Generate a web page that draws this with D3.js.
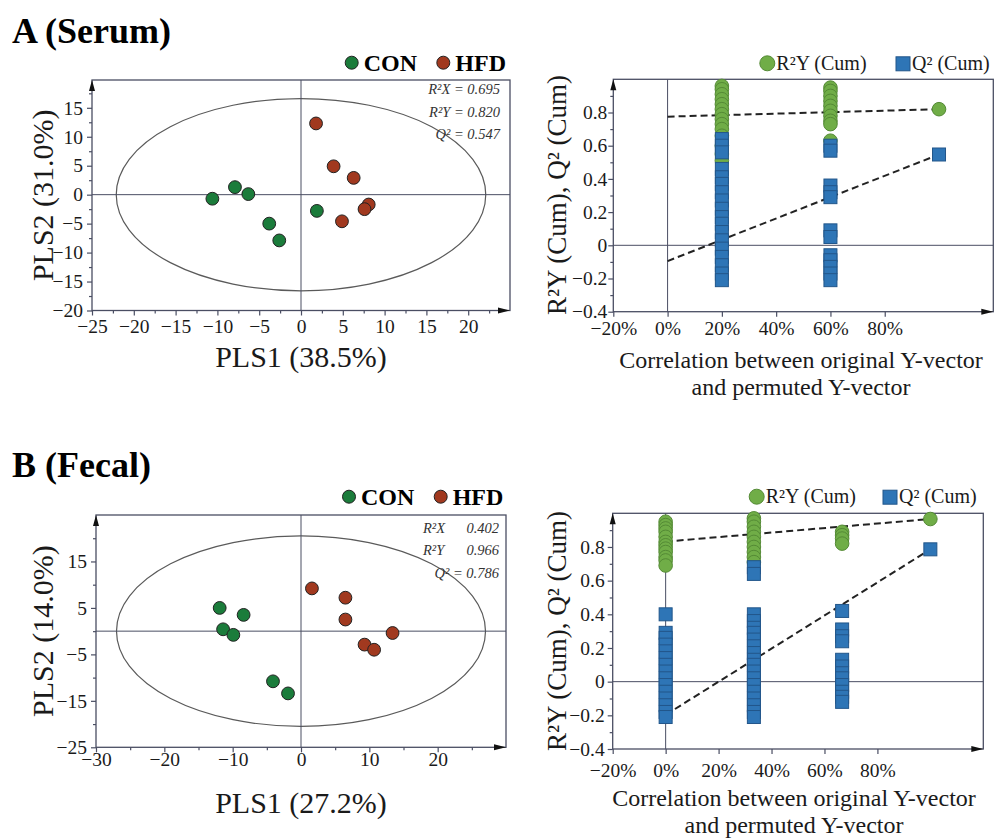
<!DOCTYPE html>
<html>
<head>
<meta charset="utf-8">
<script src="https://cdn.jsdelivr.net/npm/d3@7"></script>
<style>
  body { margin: 0; background: #fff; }
  svg text { font-family: "Liberation Serif", "Times New Roman", serif; }
</style>
</head>
<body>
<div id="chart"></div>
<script>
// ============================
// Data
// ============================

const groups = ["CON", "HFD"];
const groupColors = ["#1b7c3b", "#a1391f"];

// A (Serum) PLS-DA scores [PLS1, PLS2]
const conA = [[-10.6, -0.7], [-7.9, 1.3], [-6.3, 0.1], [-3.8, -5.0], [-2.6, -7.9], [1.9, -2.8]];
const hfdA = [[1.8, 12.3], [3.9, 4.9], [6.3, 2.9], [8.1, -1.7], [7.6, -2.5], [4.9, -4.6]];
const ellipseA = [22.1, 16.6];
const statsA = [["R²X = 0.695"], ["R²Y = 0.820"], ["Q² = 0.547"]];

// B (Fecal) PLS-DA scores
const conB = [[-11.9, 5.0], [-8.4, 3.5], [-11.4, 0.4], [-9.9, -0.8], [-4.1, -10.8], [-1.9, -13.4]];
const hfdB = [[1.6, 9.2], [6.5, 7.2], [6.5, 2.5], [13.4, -0.4], [9.3, -2.9], [10.7, -4.0]];
const ellipseB = [27.0, 20.5];
const statsB = [["R²X", "0.402"], ["R²Y", "0.966"], ["Q² = 0.786"]];

// A permutation test
const permCorrA = [0.2, 0.6];
const permR2YA = [
  [0.96, 0.94, 0.91, 0.88, 0.85, 0.82, 0.79, 0.76, 0.73, 0.70, 0.66, 0.60, 0.55, 0.51],
  [0.95, 0.93, 0.90, 0.87, 0.84, 0.81, 0.78, 0.75, 0.73, 0.63]
];
const permQ2A = [
  [0.64, 0.60, 0.56, 0.46, 0.41, 0.37, 0.32, 0.27, 0.22, 0.17, 0.13, 0.08, 0.03, -0.02, -0.07, -0.12, -0.17, -0.21],
  [0.60, 0.57, 0.36, 0.32, 0.29, 0.09, 0.05, -0.06, -0.09, -0.13, -0.17, -0.21]
];
const origA = [0.820, 0.547];         // R2Y, Q2 of the real model (corr = 100%)
const fitR2YA = [[0, 0.775], [1, 0.820]];
const fitQ2A = [[0, -0.095], [1, 0.547]];

// B permutation test
const permCorrB = [0, 1 / 3, 2 / 3];
const permR2YB = [
  [0.95, 0.93, 0.91, 0.89, 0.86, 0.83, 0.81, 0.79, 0.77, 0.74, 0.72, 0.69],
  [0.97, 0.95, 0.92, 0.89, 0.86, 0.83, 0.80, 0.77, 0.74, 0.71],
  [0.89, 0.87, 0.85, 0.82]
];
const permQ2B = [
  [0.40, 0.29, 0.26, 0.22, 0.18, 0.14, 0.10, 0.06, 0.02, -0.02, -0.06, -0.10, -0.14, -0.18, -0.21],
  [0.68, 0.64, 0.40, 0.36, 0.32, 0.29, 0.25, 0.21, 0.17, 0.13, 0.10, 0.06, 0.02, -0.02, -0.06, -0.10, -0.14, -0.18, -0.21],
  [0.42, 0.31, 0.27, 0.24, 0.13, 0.09, 0.05, 0.02, -0.02, -0.06, -0.09, -0.12]
];
const origB = [0.966, 0.786];
const fitR2YB = [[0, 0.832], [1, 0.966]];
const fitQ2B = [[0, -0.197], [1, 0.786]];

const permTicksX = [-0.2, 0, 0.2, 0.4, 0.6, 0.8];
const permTicksY = [-0.4, -0.2, 0, 0.2, 0.4, 0.6, 0.8];
const permMinorY = [-0.3, -0.1, 0.1, 0.3, 0.5, 0.7, 0.9];

// ============================
// Setup
// ============================

const serif = '"Liberation Serif", "Times New Roman", serif';
const axisCol = "#4a4e63";
const permGreen = "#70ad47", permGreenStroke = "#548a35";
const permBlue = "#2e75b6", permBlueStroke = "#22568a";

const svg = d3.select("#chart").append("svg")
  .attr("width", 998).attr("height", 838);

function styleAxis(a) {
  a.select(".domain").remove();
  a.attr("font-family", serif).attr("font-size", 19.5);
  a.selectAll("line").attr("stroke", axisCol).attr("stroke-width", 1.2);
  a.selectAll("text").attr("fill", "#1a1a1a");
}

// box + zero lines + arrows
function drawFrame(g, x, y) {
  const [l, r] = x.range(), [b, t] = y.range();
  g.append("line").attr("x1", l).attr("x2", r).attr("y1", y(0)).attr("y2", y(0))
    .attr("stroke", axisCol).attr("stroke-width", 1);
  g.append("line").attr("x1", x(0)).attr("x2", x(0)).attr("y1", t).attr("y2", b)
    .attr("stroke", axisCol).attr("stroke-width", 1);
  g.append("rect").attr("x", l).attr("y", t).attr("width", r - l).attr("height", b - t)
    .attr("fill", "none").attr("stroke", axisCol).attr("stroke-width", 1.3);
  g.append("path").attr("d", `M${l},${t}L${l - 3},${t + 11}L${l + 3},${t + 11}Z`).attr("fill", "#111");
  g.append("path").attr("d", `M${r},${b}L${r - 12},${b - 3}L${r - 12},${b + 3}Z`).attr("fill", "#111");
}

function axes(g, x, y, o) {
  const b = y.range()[0], l = x.range()[0];
  g.append("g").attr("transform", `translate(0,${b})`)
    .call(d3.axisBottom(x).tickValues(o.xMinor).tickSize(3).tickFormat(""))
    .call(styleAxis);
  g.append("g").attr("transform", `translate(0,${b})`)
    .call(d3.axisBottom(x).tickValues(o.xTicks).tickSize(5).tickFormat(o.xFmt))
    .call(styleAxis)
    .call(a => a.selectAll("text").attr("y", o.xLabY).attr("dy", 0));
  g.append("g").attr("transform", `translate(${l},0)`)
    .call(d3.axisLeft(y).tickValues(o.yMinor).tickSize(3).tickFormat(""))
    .call(styleAxis);
  g.append("g").attr("transform", `translate(${l},0)`)
    .call(d3.axisLeft(y).tickValues(o.yTicks).tickSize(5).tickFormat(o.yFmt))
    .call(styleAxis)
    .call(a => a.selectAll("text").attr("x", -o.yLabX));
}

// ============================
// Score plot
// ============================
function drawScore(o) {
  const x = d3.scaleLinear().domain(o.xDomain).range([o.left, o.right]);
  const y = d3.scaleLinear().domain(o.yDomain).range([o.bottom, o.top]);
  const g = svg.append("g");

  g.append("text").attr("x", 12).attr("y", o.titleY)
    .attr("font-size", 36).attr("font-weight", "bold").text(o.title);

  g.append("ellipse")
    .attr("cx", x(0)).attr("cy", y(0))
    .attr("rx", x(o.ell[0]) - x(0)).attr("ry", y(0) - y(o.ell[1]))
    .attr("fill", "none").attr("stroke", "#5a5a5a").attr("stroke-width", 1.2);

  drawFrame(g, x, y);
  axes(g, x, y, o);

  [o.con, o.hfd].forEach((pts, i) => {
    g.append("g").selectAll("circle").data(pts).join("circle")
      .attr("cx", d => x(d[0])).attr("cy", d => y(d[1])).attr("r", 6.4)
      .attr("fill", groupColors[i]).attr("stroke", "#222").attr("stroke-width", 1);
  });

  // stats text
  o.stats.forEach((s, i) => {
    const ty = o.statY + i * 22.6;
    if (s.length === 1) {
      g.append("text").attr("x", o.statX).attr("y", ty).attr("text-anchor", "end")
        .attr("font-size", 14.5).attr("font-style", "italic").attr("fill", "#333").text(s[0]);
    } else {
      g.append("text").attr("x", o.statX - 76).attr("y", ty)
        .attr("font-size", 14.5).attr("font-style", "italic").attr("fill", "#333").text(s[0]);
      g.append("text").attr("x", o.statX).attr("y", ty).attr("text-anchor", "end")
        .attr("font-size", 14.5).attr("font-style", "italic").attr("fill", "#333").text(s[1]);
    }
  });

  // legend
  groups.forEach((name, i) => {
    const cx = o.legX[i];
    g.append("circle").attr("cx", cx).attr("cy", o.legY).attr("r", 6.5)
      .attr("fill", groupColors[i]).attr("stroke", "#222").attr("stroke-width", 1);
    g.append("text").attr("x", cx + 12).attr("y", o.legY + 7.8)
      .attr("font-size", 24).attr("font-weight", "bold").text(name);
  });

  // axis titles
  g.append("text").attr("x", (o.left + o.right) / 2).attr("y", o.xTitleY)
    .attr("text-anchor", "middle").attr("font-size", 30).attr("fill", "#1a1a1a").text(o.xTitle);
  g.append("text").attr("transform", `translate(53,${(o.top + o.bottom) / 2}) rotate(-90)`)
    .attr("text-anchor", "middle").attr("font-size", 30).attr("fill", "#1a1a1a").text(o.yTitle);
}

// ============================
// Permutation plot
// ============================
function drawPerm(o) {
  const x = d3.scaleLinear().domain([-0.2, 1.2]).range([o.left, o.right]);
  const y = d3.scaleLinear().domain([-0.4, 1.0]).range([o.bottom, o.top]);
  const g = svg.append("g");

  drawFrame(g, x, y);
  axes(g, x, y, {
    xMinor: [], xTicks: permTicksX, xFmt: d3.format(".0%"), xLabY: o.xLabY,
    yMinor: permMinorY, yTicks: permTicksY, yFmt: d => d === 0 ? "0" : d3.format(".1f")(d), yLabX: o.yLabX
  });

  const line = d3.line().x(d => x(d[0])).y(d => y(d[1]));
  [o.fitR2Y, o.fitQ2].forEach(f => {
    g.append("path").datum(f).attr("d", line)
      .attr("fill", "none").attr("stroke", "#222").attr("stroke-width", 2)
      .attr("stroke-dasharray", "7,4");
  });

  const r2yPts = o.corr.flatMap((c, i) => o.r2y[i].map(v => [c, v])).concat([[1, o.orig[0]]]);
  const q2Pts = o.corr.flatMap((c, i) => o.q2[i].map(v => [c, v])).concat([[1, o.orig[1]]]);

  g.append("g").selectAll("circle").data(r2yPts).join("circle")
    .attr("cx", d => x(d[0])).attr("cy", d => y(d[1])).attr("r", 6.8)
    .attr("fill", permGreen).attr("stroke", permGreenStroke).attr("stroke-width", 1);

  const s = 13;
  g.append("g").selectAll("rect").data(q2Pts).join("rect")
    .attr("x", d => x(d[0]) - s / 2).attr("y", d => y(d[1]) - s / 2)
    .attr("width", s).attr("height", s)
    .attr("fill", permBlue).attr("stroke", permBlueStroke).attr("stroke-width", 1);

  // legend
  g.append("circle").attr("cx", o.legX[0]).attr("cy", o.legY).attr("r", 7.5)
    .attr("fill", permGreen).attr("stroke", permGreenStroke);
  g.append("text").attr("x", o.legX[0] + 9).attr("y", o.legY + 6.5)
    .attr("font-size", 20).attr("fill", "#1a1a1a").text("R²Y (Cum)");
  g.append("rect").attr("x", o.legX[1] - 7).attr("y", o.legY - 6.5).attr("width", 14).attr("height", 14)
    .attr("fill", permBlue).attr("stroke", permBlueStroke);
  g.append("text").attr("x", o.legX[1] + 9).attr("y", o.legY + 6.5)
    .attr("font-size", 20).attr("fill", "#1a1a1a").text("Q² (Cum)");

  // titles
  g.append("text").attr("x", o.xTitleX).attr("y", o.xTitleY)
    .attr("text-anchor", "middle").attr("font-size", 24).attr("fill", "#1a1a1a")
    .text("Correlation between original Y-vector");
  g.append("text").attr("x", o.xTitleX).attr("y", o.xTitleY + 27)
    .attr("text-anchor", "middle").attr("font-size", 24).attr("fill", "#1a1a1a")
    .text("and permuted Y-vector");
  g.append("text").attr("transform", `translate(566,${o.yTitleY}) rotate(-90)`)
    .attr("text-anchor", "middle").attr("font-size", 27).attr("fill", "#1a1a1a")
    .text("R²Y (Cum), Q² (Cum)");
}

// ============================
// Panels
// ============================
drawScore({
  title: "A (Serum)", titleY: 42.7,
  left: 92, right: 510, top: 80, bottom: 310.5,
  xDomain: [-25, 25], yDomain: [-20, 19.8],
  xTicks: d3.range(-25, 21, 5), xMinor: d3.range(-22.5, 25, 5), xFmt: d3.format("d"), xLabY: 22.5,
  yTicks: d3.range(-20, 16, 5), yMinor: d3.range(-17.5, 19, 5), yFmt: d3.format("d"), yLabX: 9,
  ell: ellipseA, con: conA, hfd: hfdA,
  stats: statsA, statX: 500, statY: 94,
  legX: [351.7, 443.3], legY: 62.7,
  xTitle: "PLS1 (38.5%)", xTitleY: 367, yTitle: "PLS2 (31.0%)"
});

drawScore({
  title: "B (Fecal)", titleY: 476.7,
  left: 96, right: 506, top: 515, bottom: 747.3,
  xDomain: [-30, 30], yDomain: [-25, 25],
  xTicks: d3.range(-30, 21, 10), xMinor: d3.range(-25, 26, 10), xFmt: d3.format("d"), xLabY: 19,
  yTicks: d3.range(-25, 16, 10), yMinor: d3.range(-20, 21, 10), yFmt: d3.format("d"), yLabX: 9,
  ell: ellipseB, con: conB, hfd: hfdB,
  stats: statsB, statX: 499, statY: 532.7,
  legX: [349, 440.7], legY: 496.7,
  xTitle: "PLS1 (27.2%)", xTitleY: 812.5, yTitle: "PLS2 (14.0%)"
});

drawPerm({
  left: 613.3, right: 993.3, top: 79.3, bottom: 311.7,
  corr: permCorrA, r2y: permR2YA, q2: permQ2A, orig: origA,
  fitR2Y: fitR2YA, fitQ2: fitQ2A,
  xLabY: 23, yLabX: 6,
  legX: [767.3, 903], legY: 63.3,
  xTitleX: 801, xTitleY: 368, yTitleY: 195
});

drawPerm({
  left: 612.7, right: 983.3, top: 513.3, bottom: 749,
  corr: permCorrB, r2y: permR2YB, q2: permQ2B, orig: origB,
  fitR2Y: fitR2YB, fitQ2: fitQ2B,
  xLabY: 27.5, yLabX: 8,
  legX: [756.7, 890], legY: 496.7,
  xTitleX: 794, xTitleY: 805.5, yTitleY: 631
});
</script>
</body>
</html>
